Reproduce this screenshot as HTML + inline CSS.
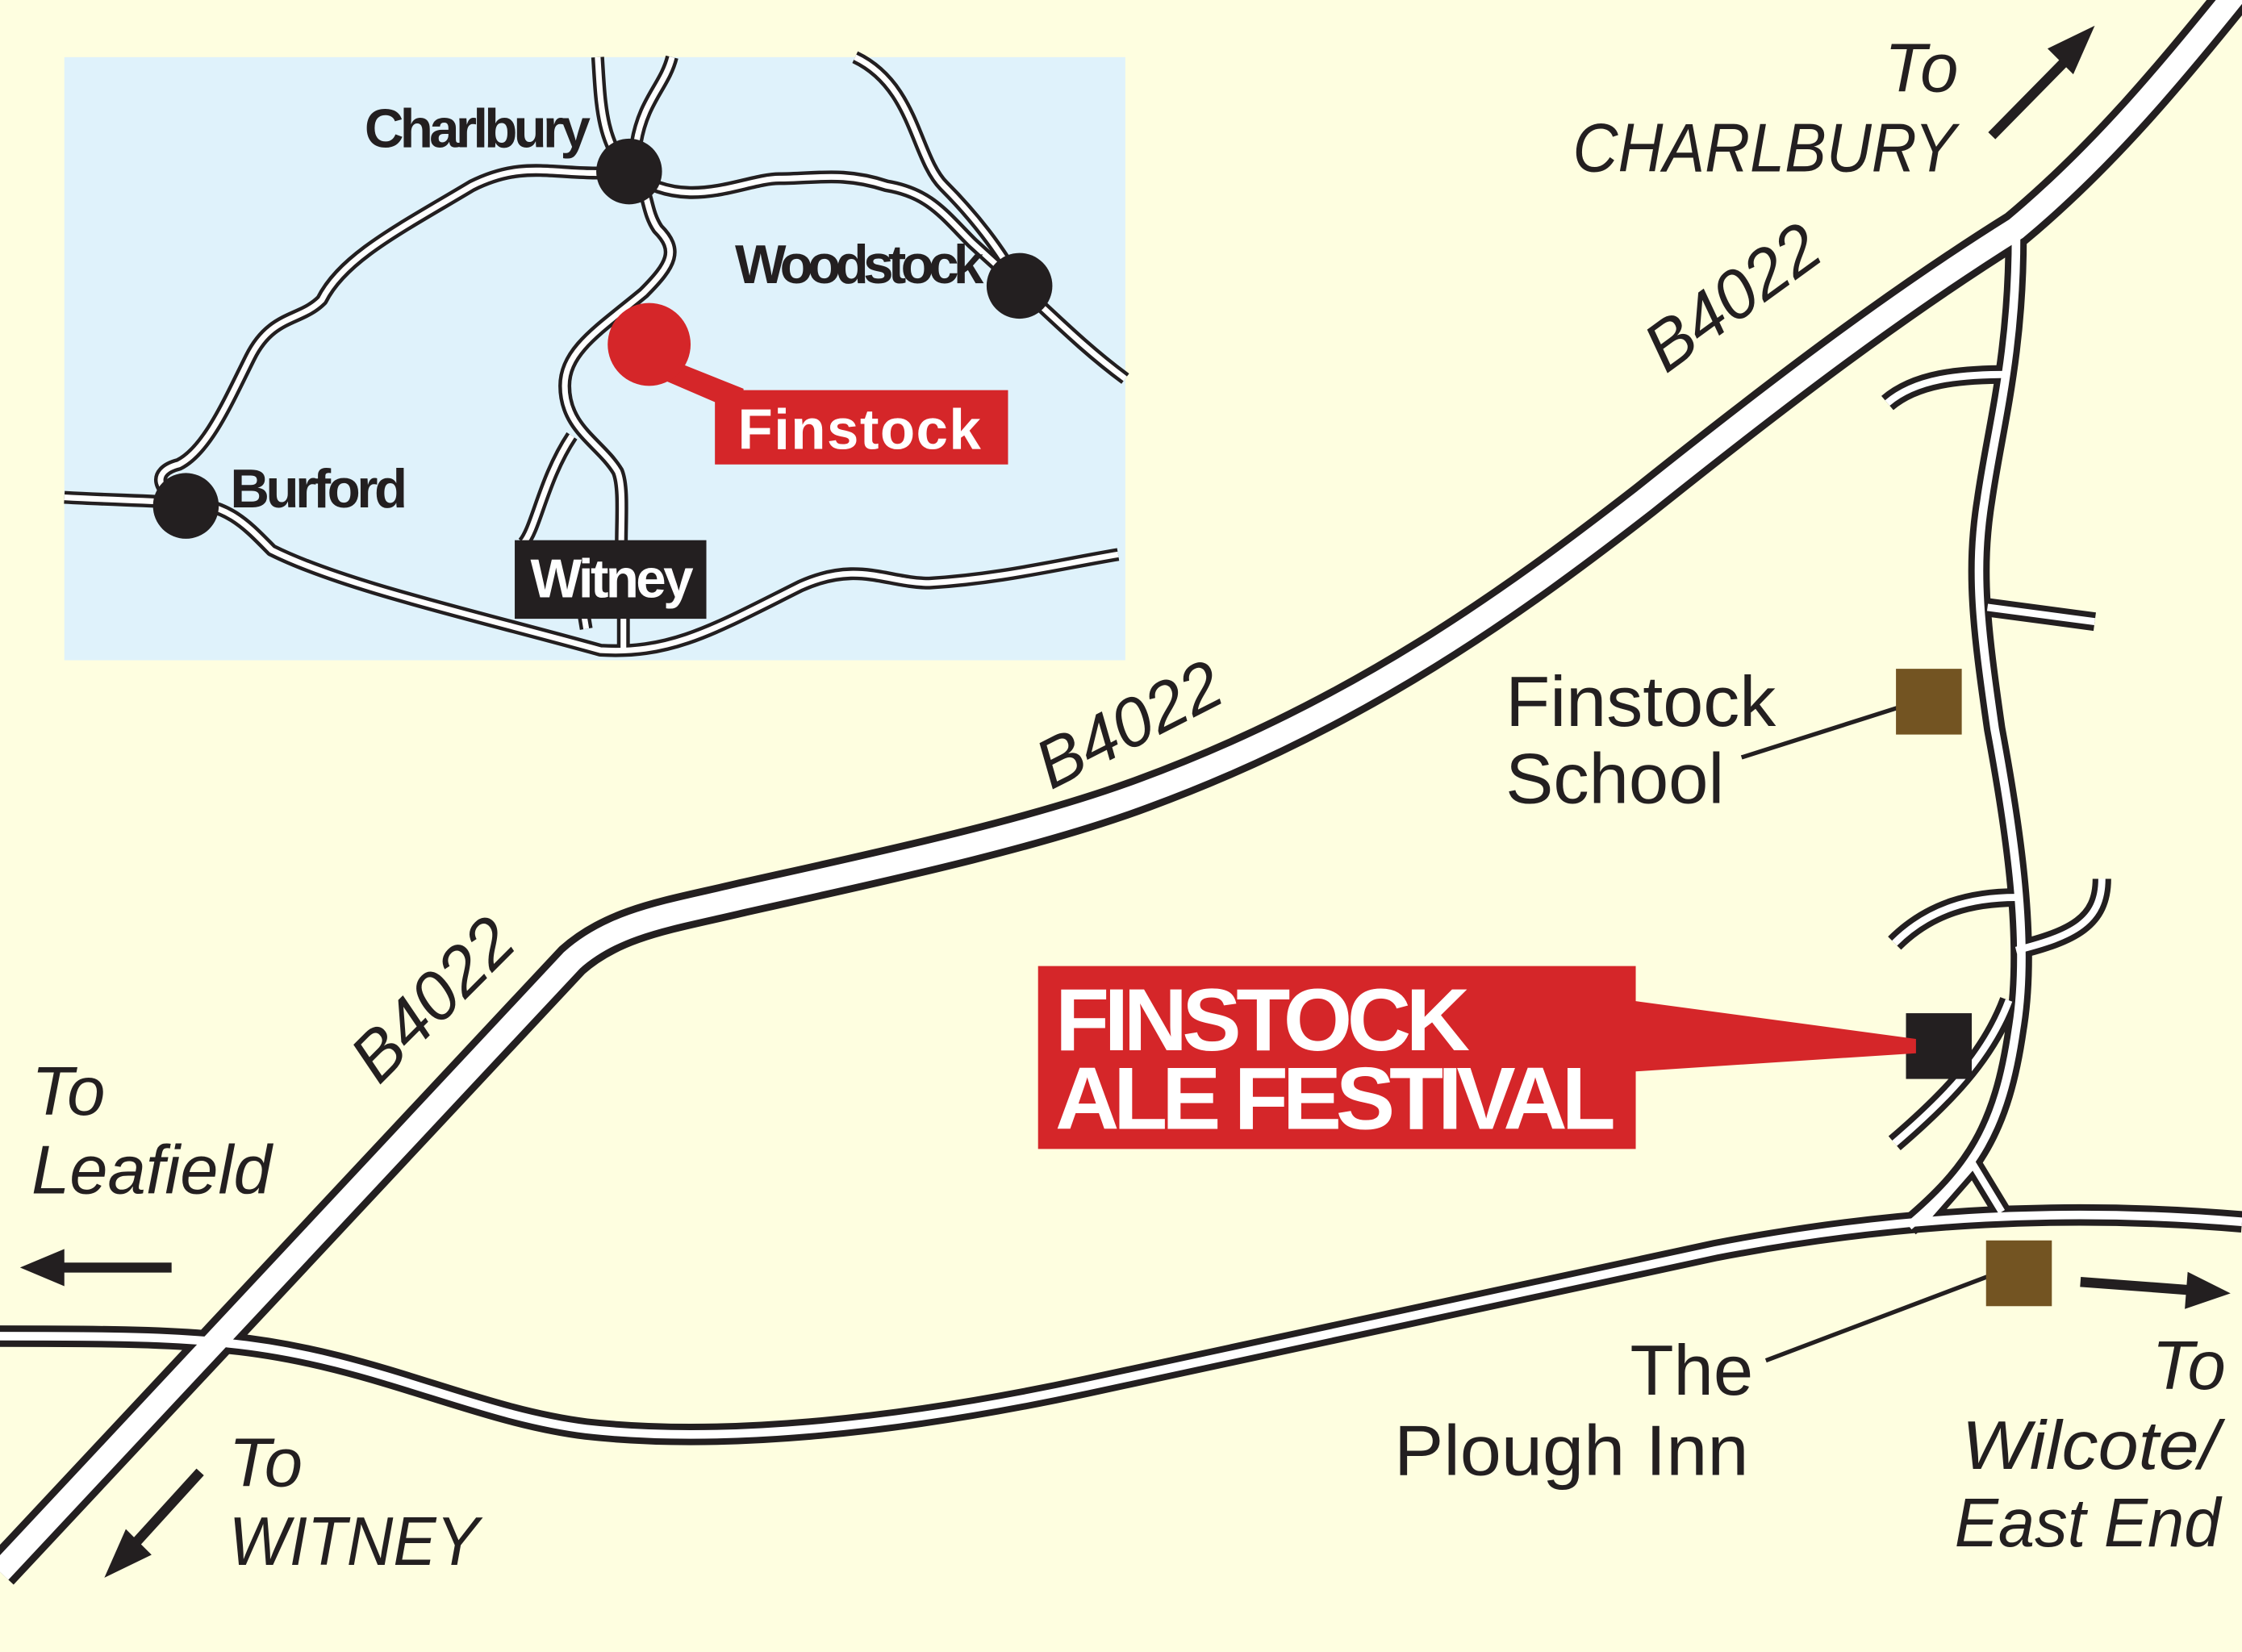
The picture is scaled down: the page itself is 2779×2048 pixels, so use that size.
<!DOCTYPE html>
<html><head><meta charset="utf-8"><style>
html,body{margin:0;padding:0;background:#fefee0}
svg{display:block}
text{font-family:"Liberation Sans",sans-serif}
</style></head><body>
<svg width="2779" height="2048" viewBox="0 0 1568 1156" preserveAspectRatio="none" xmlns="http://www.w3.org/2000/svg">
<rect width="1568" height="1156" fill="#fefee0"/>
<rect x="45" y="40" width="742" height="422" fill="#dff2fb"/>
<g fill="none" stroke-linecap="butt" stroke-linejoin="round">
<g stroke="#231f20" stroke-width="9">
<path d="M45 348 C80 350 100 350 130 352 C160 352 175 370 190 385 C240 410 330 430 420 455 C470 458 500 440 560 410 C600 392 620 408 650 408 C700 405 740 395 782 388"/>
<path d="M130 352 C110 345 105 330 125 325 C145 315 160 280 175 250 C190 220 210 225 225 210 C240 180 280 160 330 130 C370 110 390 125 440 120"/>
<path d="M418 40 C420 70 420 100 440 120 C455 130 450 145 460 160 C475 175 470 185 450 205 C420 230 395 245 395 270 C395 300 420 310 432 330 C438 345 432 380 436 410 L436 455"/>
<path d="M470 40 C465 60 450 70 445 100 L440 120"/>
<path d="M400 305 C380 335 375 370 366 380 M410 440 L405 410"/>
<path d="M440 120 C480 150 520 125 545 125 C570 125 590 120 620 130 C650 135 660 150 680 170 L713 200"/>
<path d="M598 40 C640 60 640 110 660 130 C680 150 700 175 713 200 C740 225 760 245 787 265"/>
</g>
<g stroke="#fff" stroke-width="4">
<path d="M45 348 C80 350 100 350 130 352 C160 352 175 370 190 385 C240 410 330 430 420 455 C470 458 500 440 560 410 C600 392 620 408 650 408 C700 405 740 395 782 388"/>
<path d="M130 352 C110 345 105 330 125 325 C145 315 160 280 175 250 C190 220 210 225 225 210 C240 180 280 160 330 130 C370 110 390 125 440 120"/>
<path d="M418 40 C420 70 420 100 440 120 C455 130 450 145 460 160 C475 175 470 185 450 205 C420 230 395 245 395 270 C395 300 420 310 432 330 C438 345 432 380 436 410 L436 455"/>
<path d="M470 40 C465 60 450 70 445 100 L440 120"/>
<path d="M400 305 C380 335 375 370 366 380 M410 440 L405 410"/>
<path d="M440 120 C480 150 520 125 545 125 C570 125 590 120 620 130 C650 135 660 150 680 170 L713 200"/>
<path d="M598 40 C640 60 640 110 660 130 C680 150 700 175 713 200 C740 225 760 245 787 265"/>
</g>
</g>
<circle cx="440" cy="120" r="23" fill="#231f20"/>
<circle cx="713" cy="200" r="23" fill="#231f20"/>
<circle cx="130" cy="354" r="23" fill="#231f20"/>
<polygon points="460,248 520,272 520,290 455,262" fill="#d52629"/>
<circle cx="454" cy="241" r="29" fill="#d52629"/>
<rect x="500" y="273" width="205" height="52" fill="#d52629"/>
<text x="516" y="314" font-size="40" font-weight="bold" fill="#fff" textLength="170">Finstock</text>
<rect x="360" y="378" width="134" height="55" fill="#231f20"/>
<text x="371" y="418" font-size="38" font-weight="bold" fill="#fff" textLength="114">Witney</text>
<text x="255" y="103" font-size="38" font-weight="bold" fill="#231f20" textLength="158">Charlbury</text>
<text x="514" y="198" font-size="38" font-weight="bold" fill="#231f20" textLength="174">Woodstock</text>
<text x="161" y="355" font-size="38" font-weight="bold" fill="#231f20" textLength="124">Burford</text>

<g fill="none">
<g stroke="#231f20">
<path stroke-width="26" d="M0 1100 L400 672 C430 645 470 640 520 628 C600 610 720 585 800 555 C950 500 1060 420 1150 350 C1250 270 1330 210 1410 160 C1470 110 1520 50 1568 -10"/>
<path stroke-width="15" d="M0 935 C60 935 120 935 160 940 C260 950 330 990 410 1000 C500 1010 620 1000 760 970 C900 940 1060 905 1200 875 C1330 850 1450 845 1568 855"/>
<path stroke-width="15" d="M1410 165 C1410 250 1395 300 1388 350 C1380 400 1385 440 1395 510 C1408 580 1420 660 1410 720 C1400 790 1380 820 1335 858"/>
<path stroke-width="13" d="M1320 282 C1340 265 1370 262 1405 262 M1390 425 L1465 435 M1325 660 C1350 635 1380 628 1410 628 M1410 665 C1450 655 1470 645 1470 615 M1325 800 C1360 770 1390 740 1405 700 M1345 855 L1380 815 L1400 848"/>
</g>
<g stroke="#fff">
<path stroke-width="16" d="M0 1100 L400 672 C430 645 470 640 520 628 C600 610 720 585 800 555 C950 500 1060 420 1150 350 C1250 270 1330 210 1410 160 C1470 110 1520 50 1568 -10"/>
<path stroke-width="6" d="M0 935 C60 935 120 935 160 940 C260 950 330 990 410 1000 C500 1010 620 1000 760 970 C900 940 1060 905 1200 875 C1330 850 1450 845 1568 855"/>
<path stroke-width="6" d="M1410 165 C1410 250 1395 300 1388 350 C1380 400 1385 440 1395 510 C1408 580 1420 660 1410 720 C1400 790 1380 820 1335 858"/>
<path stroke-width="5" d="M1320 282 C1340 265 1370 262 1405 262 M1390 425 L1465 435 M1325 660 C1350 635 1380 628 1410 628 M1410 665 C1450 655 1470 645 1470 615 M1325 800 C1360 770 1390 740 1405 700 M1345 855 L1380 815 L1400 848"/>
</g>
</g>

<g fill="#231f20" font-style="italic" font-size="48">
<text transform="translate(265 760) rotate(-45)">B4022</text>
<text transform="translate(735 553) rotate(-27)">B4022</text>
<text transform="translate(1165 262) rotate(-36)">B4022</text>
<text x="1318" y="64">To</text>
<text x="1100" y="120" textLength="268" lengthAdjust="spacingAndGlyphs">CHARLBURY</text>
<text x="22" y="780">To</text>
<text x="22" y="835" textLength="168" lengthAdjust="spacingAndGlyphs">Leafield</text>
<text x="160" y="1040">To</text>
<text x="160" y="1095" textLength="175" lengthAdjust="spacingAndGlyphs">WITNEY</text>
<text x="1505" y="972">To</text>
<text x="1372" y="1028" textLength="180" lengthAdjust="spacingAndGlyphs">Wilcote/</text>
<text x="1367" y="1082" textLength="186" lengthAdjust="spacingAndGlyphs">East End</text>
</g>
<g fill="#231f20" font-size="50">
<text x="1053" y="508" textLength="189" lengthAdjust="spacingAndGlyphs">Finstock</text>
<text x="1053" y="562">School</text>
<text x="1140" y="976">The</text>
<text x="975" y="1032" textLength="248" lengthAdjust="spacingAndGlyphs">Plough Inn</text>
</g>
<g stroke="#231f20" stroke-width="7" fill="#231f20">
<line x1="1393" y1="95" x2="1450" y2="37"/>
<line x1="120" y1="887" x2="40" y2="887"/>
<line x1="140" y1="1030" x2="90" y2="1085"/>
<line x1="1455" y1="897" x2="1535" y2="903"/>
</g>
<g fill="#231f20">
<polygon points="1465,18 1432,34 1450,52"/>
<polygon points="14,887 45,874 45,900"/>
<polygon points="73,1104 88,1070 106,1088"/>
<polygon points="1560,905 1530,890 1528,916"/>
</g>
<line x1="1218" y1="530" x2="1350" y2="488" stroke="#231f20" stroke-width="3"/>
<line x1="1235" y1="952" x2="1412" y2="885" stroke="#231f20" stroke-width="3"/>
<rect x="1326" y="468" width="46" height="46" fill="#735422"/>
<rect x="1389" y="868" width="46" height="46" fill="#735422"/>
<rect x="1333" y="709" width="46" height="46" fill="#231f20"/>
<polygon points="1140,700 1340,727 1340,737 1140,750" fill="#d52629"/>
<rect x="726" y="676" width="418" height="128" fill="#d52629"/>
<text x="738" y="735" font-size="62" font-weight="bold" fill="#fff" textLength="290">FINSTOCK</text>
<text x="738" y="790" font-size="62" font-weight="bold" fill="#fff" textLength="392">ALE FESTIVAL</text>
</svg>
</body></html>
